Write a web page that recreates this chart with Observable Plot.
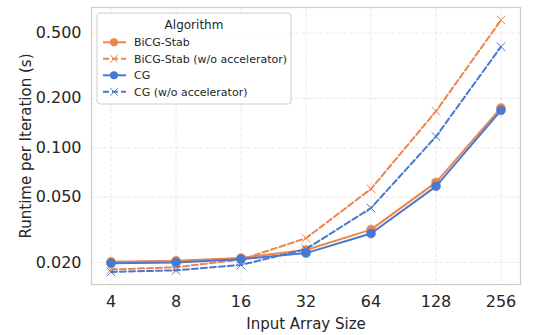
<!DOCTYPE html>
<html>
<head>
<meta charset="utf-8">
<script src="https://cdn.jsdelivr.net/npm/d3@7"></script>
<script src="https://cdn.jsdelivr.net/npm/@observablehq/plot@0.6"></script>
<style>
  body { margin: 0; background: #fff; }
  #chart { position: relative; width: 543px; height: 335px; }
  svg { font-family: "DejaVu Sans", sans-serif; }
</style>
</head>
<body>
<div id="chart"></div>
<script>
const sizes = [4, 8, 16, 32, 64, 128, 256];
const bicgStab = [0.0202, 0.0205, 0.0213, 0.0238, 0.0317, 0.0615, 0.175];
const bicgStabNoAcc = [0.0181, 0.0187, 0.0208, 0.0281, 0.0561, 0.167, 0.60];
const cg = [0.0198, 0.0200, 0.0209, 0.0228, 0.0300, 0.0582, 0.169];
const cgNoAcc = [0.0175, 0.0179, 0.0193, 0.0241, 0.0429, 0.117, 0.413];
const yTicks = [0.02, 0.05, 0.1, 0.2, 0.5];
const seriesNames = ["BiCG-Stab", "BiCG-Stab (w/o accelerator)", "CG", "CG (w/o accelerator)"];
const orange = "#ee854a", blue = "#4878d0";

const series = [
  {name: seriesNames[0], values: bicgStab, color: orange, dashed: false},
  {name: seriesNames[1], values: bicgStabNoAcc, color: orange, dashed: true},
  {name: seriesNames[2], values: cg, color: blue, dashed: false},
  {name: seriesNames[3], values: cgNoAcc, color: blue, dashed: true}
];
const rows = s => sizes.map((x, i) => ({x, y: s.values[i], name: s.name}));

const marks = [
  Plot.gridY(yTicks, {stroke: "#e8e8e8", strokeOpacity: 1, strokeDasharray: "4,2"}),
  Plot.gridX(sizes, {stroke: "#e8e8e8", strokeOpacity: 1, strokeDasharray: "4,2"}),
  Plot.frame({stroke: "#cccccc", strokeWidth: 1.2})
];
for (const s of series) {
  const d = rows(s);
  marks.push(Plot.line(d, {x: "x", y: "y", stroke: s.color, strokeWidth: 2,
    strokeDasharray: s.dashed ? "6,3" : null}));
  if (s.dashed) {
    marks.push(Plot.dot(d, {x: "x", y: "y", symbol: "times", r: 4, stroke: s.color, strokeWidth: 1}));
  } else {
    marks.push(Plot.dot(d, {x: "x", y: "y", r: 4.5, fill: s.color, stroke: s.color, strokeWidth: 0.5}));
  }
}
marks.push(Plot.axisY(yTicks, {tickFormat: d3.format(".3f"), tickSize: 0, tickPadding: 10,
  fontSize: 16, color: "#262626", label: "Runtime per Iteration (s)", labelAnchor: "center",
  labelArrow: "none", labelOffset: 71}));
marks.push(Plot.axisX(sizes, {tickFormat: d3.format("d"), tickSize: 0, tickPadding: 11,
  fontSize: 16, color: "#262626", label: "Input Array Size", labelAnchor: "center",
  labelArrow: "none", labelOffset: 44}));

const plot = Plot.plot({
  width: 543, height: 335,
  marginLeft: 91, marginRight: 23, marginTop: 7, marginBottom: 51,
  style: {fontFamily: "DejaVu Sans, sans-serif", background: "#fff"},
  x: {type: "log", base: 2, domain: [4 * Math.pow(2, -0.3), 256 * Math.pow(2, 0.3)]},
  y: {type: "log", domain: [0.01467, 0.716]},
  marks
});
d3.select(plot).selectAll("g[aria-label='y-axis label'] text, g[aria-label='x-axis label'] text")
  .attr("font-size", 15).attr("fill", "#262626");
document.getElementById("chart").appendChild(plot);

// legend (inside the SVG)
const svg = d3.select(plot);
const lg = svg.append("g").attr("transform", "translate(97,13)").attr("text-anchor", "start");
lg.append("rect").attr("width", 194).attr("height", 91).attr("rx", 3)
  .attr("fill", "#fff").attr("fill-opacity", 0.85).attr("stroke", "#cccccc").attr("stroke-width", 1);
lg.append("text").attr("x", 97).attr("y", 12).attr("dy", "0.35em").attr("text-anchor", "middle")
  .attr("font-size", 12).attr("fill", "#262626").text("Algorithm");
series.forEach((s, i) => {
  const yy = 29.3 + i * 16.5;
  const g = lg.append("g").attr("transform", `translate(0,${yy})`);
  g.append("line").attr("x1", 6).attr("x2", 29).attr("stroke", s.color).attr("stroke-width", 2)
    .attr("stroke-dasharray", s.dashed ? "6,3" : null);
  if (s.dashed) {
    g.append("path").attr("d", d3.symbol(d3.symbolTimes, 40)()).attr("transform", "translate(17,0)")
      .attr("stroke", s.color).attr("fill", "none").attr("stroke-width", 1);
  } else {
    g.append("circle").attr("cx", 17).attr("r", 4).attr("fill", s.color);
  }
  g.append("text").attr("x", 37).attr("y", 0).attr("dy", "0.35em").attr("text-anchor", "start")
    .attr("font-size", 11).attr("fill", "#262626").text(s.name);
});
</script>
</body>
</html>
